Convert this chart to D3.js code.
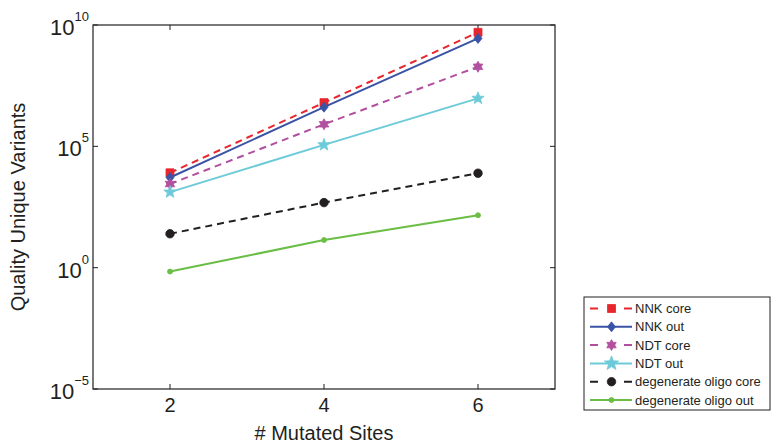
<!DOCTYPE html>
<html>
<head>
<meta charset="utf-8">
<script src="https://cdn.jsdelivr.net/npm/d3@7"></script>
<style>
  body { margin: 0; background: #fff; }
  text { font-family: "Liberation Sans", Arial, Helvetica, sans-serif; fill: #231f20; }
</style>
</head>
<body>
<script>
var width  = 771;
var height = 446;

// data
var sites = [2, 4, 6];
var xTicks = [2, 4, 6];
var yTicks = [1e-5, 1, 1e5, 1e10];
var yTickExp = ['\u22125', '0', '5', '10'];

var nnkCore   = [8100, 6.3e6, 5.0e9];
var nnkOut    = [5200, 4.1e6, 2.8e9];
var ndtCore   = [2800, 8.1e5, 1.9e8];
var ndtOut    = [1300, 1.15e5, 9.5e6];
var degCore   = [25, 480, 7800];
var degOut    = [0.69, 13.8, 145];

var seriesNames = ['NNK core', 'NNK out', 'NDT core', 'NDT out', 'degenerate oligo core', 'degenerate oligo out'];

var series = [
  { name: seriesNames[0], values: nnkCore, color: '#e8262d', dash: '7,5', marker: 'square',  size: 8 },
  { name: seriesNames[1], values: nnkOut,  color: '#3a53a4', dash: null,  marker: 'diamond', size: 10 },
  { name: seriesNames[2], values: ndtCore, color: '#b24f9f', dash: '7,5', marker: 'hexagram', size: 11 },
  { name: seriesNames[3], values: ndtOut,  color: '#6dcad8', dash: null,  marker: 'pentagram', size: 13 },
  { name: seriesNames[4], values: degCore, color: '#231f20', dash: '7,5', marker: 'circle', size: 8.5 },
  { name: seriesNames[5], values: degOut,  color: '#6abd45', dash: null,  marker: 'circle', size: 5 }
];

var plot = { left: 93, right: 555, top: 25, bottom: 389 };

var x = d3.scaleLinear().domain([1, 7]).range([plot.left, plot.right]);
var y = d3.scaleLog().domain([1e-5, 1e10]).range([plot.bottom, plot.top]);

var svg = d3.select('body').append('svg')
    .attr('width', width)
    .attr('height', height);

function starPath(points, outer, inner) {
  var p = [];
  for (var i = 0; i < points * 2; i++) {
    var r = i % 2 === 0 ? outer : inner;
    var a = -Math.PI / 2 + i * Math.PI / points;
    p.push([r * Math.cos(a), r * Math.sin(a)]);
  }
  return 'M' + p.map(function(d) { return d[0].toFixed(2) + ',' + d[1].toFixed(2); }).join('L') + 'Z';
}

function markerPath(type, s) {
  var h = s / 2;
  if (type === 'square') return 'M' + (-h) + ',' + (-h) + 'H' + h + 'V' + h + 'H' + (-h) + 'Z';
  if (type === 'diamond') return 'M0,' + (-h) + 'L' + (h * 0.8) + ',0L0,' + h + 'L' + (-h * 0.8) + ',0Z';
  if (type === 'hexagram') return starPath(6, h, h * 0.58);
  if (type === 'pentagram') return starPath(5, h, h * 0.42);
  return d3.arc()({ innerRadius: 0, outerRadius: h, startAngle: 0, endAngle: 2 * Math.PI });
}

// axes frame
var axes = svg.append('g');
axes.append('rect')
  .attr('x', plot.left).attr('y', plot.top)
  .attr('width', plot.right - plot.left).attr('height', plot.bottom - plot.top)
  .attr('fill', 'none').attr('stroke', '#231f20').attr('stroke-width', 1.2);

// x ticks (inside, top and bottom)
xTicks.forEach(function(t) {
  axes.append('line').attr('x1', x(t)).attr('x2', x(t)).attr('y1', plot.bottom).attr('y2', plot.bottom - 5)
    .attr('stroke', '#231f20');
  axes.append('line').attr('x1', x(t)).attr('x2', x(t)).attr('y1', plot.top).attr('y2', plot.top + 5)
    .attr('stroke', '#231f20');
  axes.append('text').attr('x', x(t)).attr('y', 412).attr('text-anchor', 'middle')
    .attr('font-size', 20).text(t);
});

// y ticks (inside, left and right) with power labels
yTicks.forEach(function(t, i) {
  axes.append('line').attr('x1', plot.left).attr('x2', plot.left + 5).attr('y1', y(t)).attr('y2', y(t))
    .attr('stroke', '#231f20');
  axes.append('line').attr('x1', plot.right).attr('x2', plot.right - 5).attr('y1', y(t)).attr('y2', y(t))
    .attr('stroke', '#231f20');
  var lab = axes.append('text').attr('x', 89).attr('y', y(t) + 10).attr('text-anchor', 'end');
  lab.append('tspan').attr('font-size', 22).text('10');
  lab.append('tspan').attr('font-size', 13).attr('dy', -14).text(yTickExp[i]);
});

// axis titles
svg.append('text').attr('x', x(4)).attr('y', 440).attr('text-anchor', 'middle')
  .attr('font-size', 20).text('# Mutated Sites');
svg.append('text').attr('transform', 'translate(25,' + ((plot.top + plot.bottom) / 2) + ') rotate(-90)')
  .attr('text-anchor', 'middle').attr('font-size', 20).text('Quality Unique Variants');

// lines and markers
var line = d3.line()
  .x(function(d, i) { return x(sites[i]); })
  .y(function(d) { return y(d); });

series.forEach(function(s) {
  var g = svg.append('g');
  g.append('path').attr('d', line(s.values))
    .attr('fill', 'none').attr('stroke', s.color).attr('stroke-width', 2)
    .attr('stroke-dasharray', s.dash);
  g.selectAll('path.mark').data(s.values).enter().append('path')
    .attr('class', 'mark')
    .attr('d', markerPath(s.marker, s.size))
    .attr('transform', function(d, i) { return 'translate(' + x(sites[i]) + ',' + y(d) + ')'; })
    .attr('fill', s.color).attr('stroke', s.color).attr('stroke-width', 0.8);
});

// legend
var legend = svg.append('g');
legend.append('rect').attr('x', 584).attr('y', 297).attr('width', 186).attr('height', 113)
  .attr('fill', '#fff').attr('stroke', '#231f20').attr('stroke-width', 1);

series.forEach(function(s, i) {
  var cy = 308.5 + i * 18.3;
  legend.append('line').attr('x1', 590).attr('x2', 632).attr('y1', cy).attr('y2', cy)
    .attr('stroke', s.color).attr('stroke-width', 2)
    .attr('stroke-dasharray', s.dash ? '8,26' : null);
  legend.append('path').attr('d', markerPath(s.marker, s.marker === 'pentagram' ? 15 : s.size))
    .attr('transform', 'translate(611.5,' + cy + ')')
    .attr('fill', s.color).attr('stroke', s.color).attr('stroke-width', 0.8);
  legend.append('text').attr('x', 635).attr('y', cy + 4.5).attr('font-size', 13).text(s.name);
});
</script>
</body>
</html>
